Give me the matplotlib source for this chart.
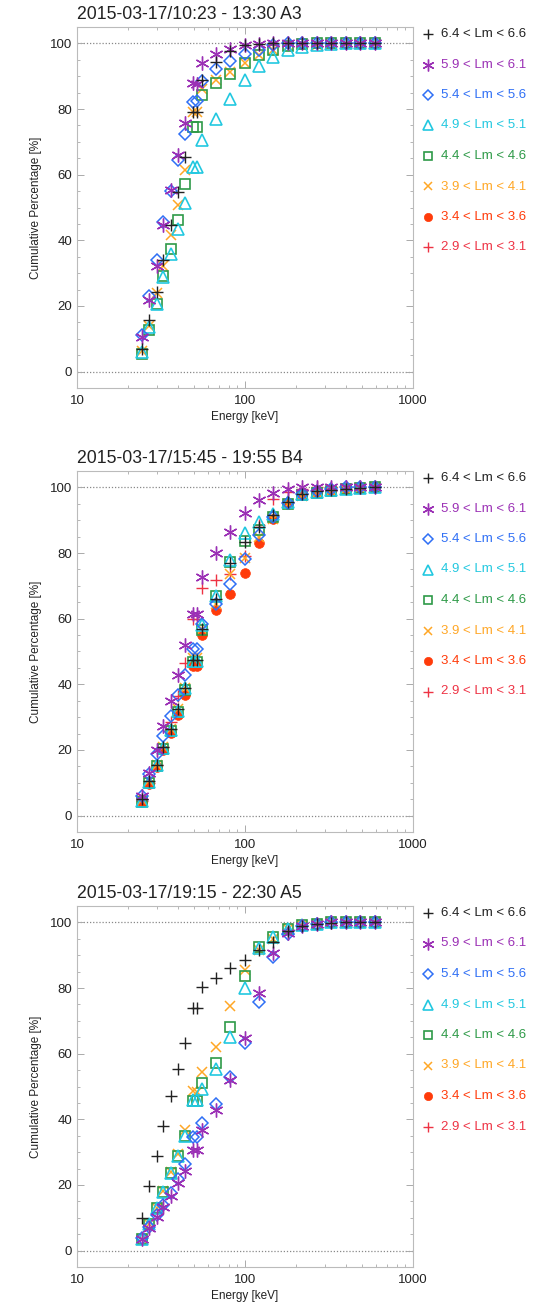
import numpy as np
import matplotlib
matplotlib.use("Agg")
import matplotlib.pyplot as plt
from matplotlib.ticker import LogLocator, MultipleLocator, NullFormatter, FixedLocator, FixedFormatter

plt.rcParams['font.family'] = ['Liberation Sans', 'DejaVu Sans']

nan = np.nan

# Energy channels [keV]
energy = [24.3, 26.8, 29.8, 32.7, 36.1, 40.1, 44.0, 48.8, 52.0, 55.2, 67.0, 81.4,
          100, 121.7, 147, 181, 219, 267, 325, 398, 484, 594]

titles = ["2015-03-17/10:23 - 13:30 A3",
          "2015-03-17/15:45 - 19:55 B4",
          "2015-03-17/19:15 - 22:30 A5"]

labels = ["6.4 < Lm < 6.6", "5.9 < Lm < 6.1", "5.4 < Lm < 5.6", "4.9 < Lm < 5.1",
          "4.4 < Lm < 4.6", "3.9 < Lm < 4.1", "3.4 < Lm < 3.6", "2.9 < Lm < 3.1"]

# ---- Panel 1 (A3) ----
a3_l64 = [6.9, 15.6, 24.2, 33.9, 44.6, 54.7, 65.4, 79.1, 79.0, 89.0, 94.4, 97.8, 99.5, 99.8, 100, 100, 100, 100, 100, 100, 100, 100]
a3_l60 = [10.5, 21.7, 32.3, 44.6, 55.4, 65.9, 75.8, 87.8, 87.5, 93.9, 96.7, 98.2, 99.5, 99.8, 100, 100, 100, 100, 100, 100, 100, 100]
a3_l55 = [11.0, 22.9, 33.9, 45.6, 55.0, 64.4, 72.5, 82.2, 82.4, 88.5, 92.1, 94.6, 96.7, 98.0, 99.5, 100, 100, 100, 100, 100, 100, 100]
a3_l50 = [5.9, 13.5, 20.7, 28.8, 35.9, 43.5, 51.4, 62.4, 62.4, 70.7, 77.1, 83.0, 88.8, 93.0, 95.9, 98.0, 99.0, 99.5, 99.8, 100, 100, 100]
a3_l45 = [5.4, 12.8, 20.6, 29.0, 37.4, 46.2, 57.1, 74.6, 74.6, 84.2, 87.8, 90.8, 93.9, 96.5, 98.0, 99.3, 99.7, 100, 100, 100, 100, 100]
a3_l40 = [6.4, 14.0, 24.0, 32.3, 41.5, 50.7, 61.3, 79.1, 79.0, 86.0, 88.8, 91.4, 94.0, 96.5, 98.0, 99.2, 99.4, 99.6, 99.7, 99.8, 99.8, 99.8]
a3_l35 = [nan] * 22
a3_l30 = [nan] * 22

# ---- Panel 2 (B4) ----
b4_l64 = [5.0, 10.5, 15.5, 21.0, 26.5, 32.5, 39.0, 47.5, 47.5, 57.0, 66.0, 77.0, 83.5, 88.0, 91.5, 95.5, 98.0, 98.8, 99.3, 99.6, 99.8, 100]
b4_l60 = [6.1, 12.9, 20.0, 27.2, 34.8, 42.9, 51.9, 61.5, 61.5, 72.7, 79.9, 86.5, 92.3, 96.1, 98.3, 99.4, 100, 100, 100, 100, 100, 100]
b4_l55 = [6.0, 12.7, 18.8, 24.4, 30.2, 36.6, 42.9, 50.9, 50.9, 58.5, 64.6, 70.7, 78.3, 85.4, 91.0, 95.1, 98.1, 99.0, 99.5, 100, 100, 100]
b4_l50 = [4.5, 10.2, 15.3, 20.5, 26.0, 32.0, 39.0, 47.0, 47.0, 58.0, 67.0, 77.8, 86.0, 89.4, 92.0, 95.5, 98.0, 98.6, 99.2, 99.5, 99.8, 100]
b4_l45 = [4.1, 9.9, 15.0, 20.3, 25.7, 31.5, 38.3, 46.8, 46.8, 56.5, 66.8, 77.3, 83.7, 86.9, 91.0, 95.0, 97.7, 98.4, 99.0, 99.4, 99.7, 100]
b4_l40 = [4.8, 10.5, 15.5, 20.8, 26.5, 32.5, 39.0, 48.0, 48.0, 57.0, 64.5, 73.5, 78.5, 85.0, 90.5, 95.0, 97.5, 98.4, 99.0, 99.4, 99.7, 100]
b4_l35 = [4.0, 9.7, 14.8, 20.0, 25.3, 30.5, 36.8, 45.5, 45.5, 54.9, 62.6, 67.4, 74.0, 83.1, 90.5, 95.0, 97.7, 98.4, 99.0, 99.4, 99.7, 100]
b4_l30 = [4.5, 10.0, 15.5, 21.0, 28.5, 36.5, 46.5, 60.0, 60.0, 69.5, 71.7, 73.5, 79.0, 88.5, 96.6, 98.5, 99.5, 100, 100, 100, 100, 100]

# ---- Panel 3 (A5) ----
a5_l64 = [9.9, 19.7, 28.7, 38.0, 47.2, 55.3, 63.4, 73.9, 73.9, 80.2, 83.2, 86.1, 88.6, 91.7, 94.0, 97.3, 99.0, 99.5, 99.8, 100, 100, 100]
a5_l60 = [3.5, 6.8, 10.2, 13.4, 16.7, 20.5, 24.4, 30.7, 30.7, 36.8, 42.7, 52.0, 64.7, 78.5, 90.8, 96.7, 98.8, 99.6, 100, 100, 100, 100]
a5_l55 = [3.8, 7.3, 10.9, 13.9, 17.5, 21.7, 26.3, 34.6, 34.6, 38.8, 44.7, 52.8, 63.4, 75.9, 89.4, 96.5, 98.8, 99.6, 100, 100, 100, 100]
a5_l50 = [3.5, 8.1, 12.9, 18.0, 23.6, 28.9, 35.0, 45.9, 45.9, 49.2, 55.3, 65.2, 80.0, 92.2, 95.7, 98.0, 99.2, 99.6, 100, 100, 100, 100]
a5_l45 = [3.5, 8.1, 12.9, 18.0, 23.6, 28.9, 35.0, 45.7, 45.7, 51.0, 57.3, 68.1, 83.7, 92.5, 95.5, 98.0, 99.2, 99.6, 100, 100, 100, 100]
a5_l40 = [3.5, 8.0, 13.0, 18.2, 24.0, 29.5, 36.8, 48.5, 48.2, 54.3, 61.9, 74.6, 85.6, 91.7, 95.0, 98.0, 99.2, 99.6, 100, 100, 100, 100]
a5_l35 = [nan] * 22
a5_l30 = [nan] * 22

panels = [
    [a3_l64, a3_l60, a3_l55, a3_l50, a3_l45, a3_l40, a3_l35, a3_l30],
    [b4_l64, b4_l60, b4_l55, b4_l50, b4_l45, b4_l40, b4_l35, b4_l30],
    [a5_l64, a5_l60, a5_l55, a5_l50, a5_l45, a5_l40, a5_l35, a5_l30],
]

colors = ["#222222", "#9B30B5", "#2F6FF5", "#22C8E0", "#2E9A48", "#FFA726", "#FF3B0A", "#EE3344"]
asterisk = (6, 2, 0)
styles = [
    dict(marker='+', ms=9, mew=1.0, mfc='none'),
    dict(marker=asterisk, ms=10, mew=1.0, mfc='none'),
    dict(marker='D', ms=6.0, mew=1.1, mfc='none'),
    dict(marker='^', ms=8.0, mew=1.2, mfc='none'),
    dict(marker='s', ms=7.5, mew=1.2, mfc='none'),
    dict(marker='x', ms=7.5, mew=1.1, mfc='none'),
    dict(marker='o', ms=7.0, mew=0.5),
    dict(marker='+', ms=9, mew=1.0, mfc='none'),
]

fig = plt.figure(figsize=(5.36, 13.08), dpi=100)
W, H = 536.0, 1308.0
ax_left, ax_right = 77, 413
tops = [27, 471, 906]
height_px = 361

for p in range(3):
    top = tops[p]
    ax = fig.add_axes([ax_left / W, 1 - (top + height_px) / H, (ax_right - ax_left) / W, height_px / H])
    ax.set_xscale('log')
    ax.set_xlim(10, 1000)
    ax.set_ylim(-5, 105)
    ax.axhline(0, color='#888888', lw=0.9, ls=(0, (1, 1.5)), zorder=1)
    ax.axhline(100, color='#888888', lw=0.9, ls=(0, (1, 1.5)), zorder=1)
    series = panels[p]
    for i in reversed(range(8)):
        st = dict(styles[i])
        if st.get('mfc') != 'none':
            st['mfc'] = colors[i]
        ax.plot(energy, series[i], ls='none', color=colors[i], mec=colors[i], zorder=3 + (7 - i), **st)
    # legend
    for i in range(8):
        yy = 1 - (7 + 30.5 * i) / height_px
        st = dict(styles[i])
        if st.get('mfc') != 'none':
            st['mfc'] = colors[i]
        st['ms'] = st['ms'] * 0.85
        ax.plot([1.0446], [yy], transform=ax.transAxes, clip_on=False, ls='none',
                color=colors[i], mec=colors[i], **st)
        ax.text(1.083, yy, labels[i], transform=ax.transAxes, color=colors[i],
                fontsize=9.5, va='center', ha='left')
    ax.text(0.0, 1.012, titles[p], transform=ax.transAxes, fontsize=12.7,
            ha='left', va='bottom', color='#222222')
    ax.set_ylabel("Cumulative Percentage [%]", fontsize=8.5, labelpad=6, color='#222222')
    ax.set_xlabel("Energy [keV]", fontsize=8.5, labelpad=3, color='#222222')
    ax.yaxis.set_major_locator(MultipleLocator(20))
    ax.yaxis.set_minor_locator(MultipleLocator(5))
    ax.xaxis.set_major_locator(FixedLocator([10, 100, 1000]))
    ax.xaxis.set_major_formatter(FixedFormatter(['10', '100', '1000']))
    ax.xaxis.set_minor_locator(LogLocator(base=10, subs=np.arange(2, 10)))
    ax.xaxis.set_minor_formatter(NullFormatter())
    ax.tick_params(which='both', direction='in', top=True, right=True, colors='#aaaaaa',
                   labelcolor='#222222', labelsize=9.5)
    ax.tick_params(which='major', length=5, width=0.7)
    ax.tick_params(which='minor', length=2.5, width=0.6)
    ax.tick_params(axis='x', pad=5)
    for s in ax.spines.values():
        s.set_color('#bbbbbb')
        s.set_linewidth(0.8)

fig.savefig("out.png", dpi=100)
